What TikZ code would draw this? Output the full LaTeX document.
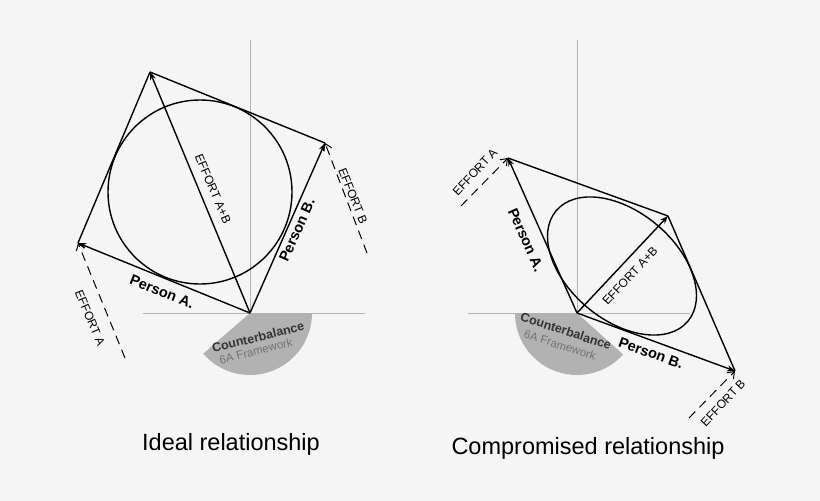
\documentclass[tikz,border=0pt]{standalone}
\usepackage{fontspec}
\setmainfont{Liberation Sans}
\usetikzlibrary{arrows.meta}
\begin{document}
\begin{tikzpicture}[x=1pt,y=-1pt,
  vec/.style={line width=1.4pt,-{Stealth[length=8pt,width=6pt]}},
  side/.style={line width=1.4pt},
  axis/.style={draw=gray!60,line width=0.6pt},
  dsh/.style={line width=1pt,dash pattern=on 9pt off 6pt,-{Straight Barb[length=6pt,width=9pt]}},
  lab/.style={font=\fontsize{12}{13}\selectfont,inner sep=1pt},
  plab/.style={font=\fontsize{14.5}{15}\selectfont\bfseries,inner sep=1pt},
  cb/.style={font=\fontsize{12.5}{12}\selectfont\bfseries,text=black!80,inner sep=0pt},
  fw/.style={font=\fontsize{11.5}{11}\selectfont,text=black!55,inner sep=0pt},
  ttl/.style={font=\fontsize{23.5}{26}\selectfont}]
\fill[black!4] (0,0) rectangle (820,501);
\useasboundingbox (0,0) rectangle (820,501);
% ---------- left ----------
\coordinate (O1) at (250,313);
\coordinate (A1) at (78,243);
\coordinate (B1) at (325,143);
\coordinate (S1) at (150,72);
\coordinate (a1e) at (125,358);
\coordinate (b1e) at (367,253);
\draw[axis] (143,313) -- (365,313);
\draw[axis] (250,40) -- (O1);
\fill[black!30] (O1) -- ++(62,0) arc[start angle=0,end angle=139,radius=62] -- cycle;
\node[cb,rotate=14] (cb1) at (258,337) {Counterbalance};
\node[fw,rotate=14] (fw1) at (256,351) {6A Framework};
\draw[line width=1.4pt] (200,192) circle (92);
\draw[side] (A1) -- (S1);
\draw[side] (B1) -- (S1);
\draw[vec] (O1) -- (A1);
\draw[vec] (O1) -- (B1);
\draw[vec] (O1) -- (S1);
\draw[dsh] (a1e) -- (A1);
\draw[dsh] (b1e) -- (B1);
\node[lab,rotate=-67] (ea1) at (90,318) {EFFORT A};
\node[lab,rotate=-68] (eb1) at (353,196) {EFFORT B};
\node[lab,rotate=-67] (es1) at (213,189) {EFFORT A+B};
\node[plab,rotate=-22] (pa1) at (162,292) {Person A.};
\node[plab,rotate=66] (pb1) at (297,230) {Person B.};
\node[ttl] (t1) at (231,444) {Ideal relationship};
% ---------- right ----------
\coordinate (O2) at (577,313);
\coordinate (A2) at (508,158);
\coordinate (B2) at (735,371);
\coordinate (S2) at (668,216);
\coordinate (a2e) at (461,206);
\coordinate (b2e) at (689,418);
\draw[axis] (468,313) -- (690,313);
\draw[axis] (577,40) -- (O2);
\fill[black!30] (O2) -- ++(-62,0) arc[start angle=180,end angle=42,radius=62] -- cycle;
\node[cb,rotate=-18] (cb2) at (566,331) {Counterbalance};
\node[fw,rotate=-18] (fw2) at (560,345) {6A Framework};
\draw[line width=1.4pt,rotate around={-40:(622,266)}] (622,266) ellipse (86 and 54);
\draw[side] (A2) -- (S2);
\draw[side] (B2) -- (S2);
\draw[vec] (O2) -- (A2);
\draw[vec] (O2) -- (B2);
\draw[vec] (O2) -- (S2);
\draw[dsh] (a2e) -- (A2);
\draw[dsh] (b2e) -- (B2);
\node[lab,rotate=47] (ea2) at (475,172) {EFFORT A};
\node[lab,rotate=47] (eb2) at (723,403) {EFFORT B};
\node[lab,rotate=47] (es2) at (630,276) {EFFORT A+B};
\node[plab,rotate=-66] (pa2) at (526,240) {Person A.};
\node[plab,rotate=-20] (pb2) at (651,353) {Person B.};
\node[ttl] (t2) at (588,448) {Compromised relationship};
\end{tikzpicture}
\end{document}
